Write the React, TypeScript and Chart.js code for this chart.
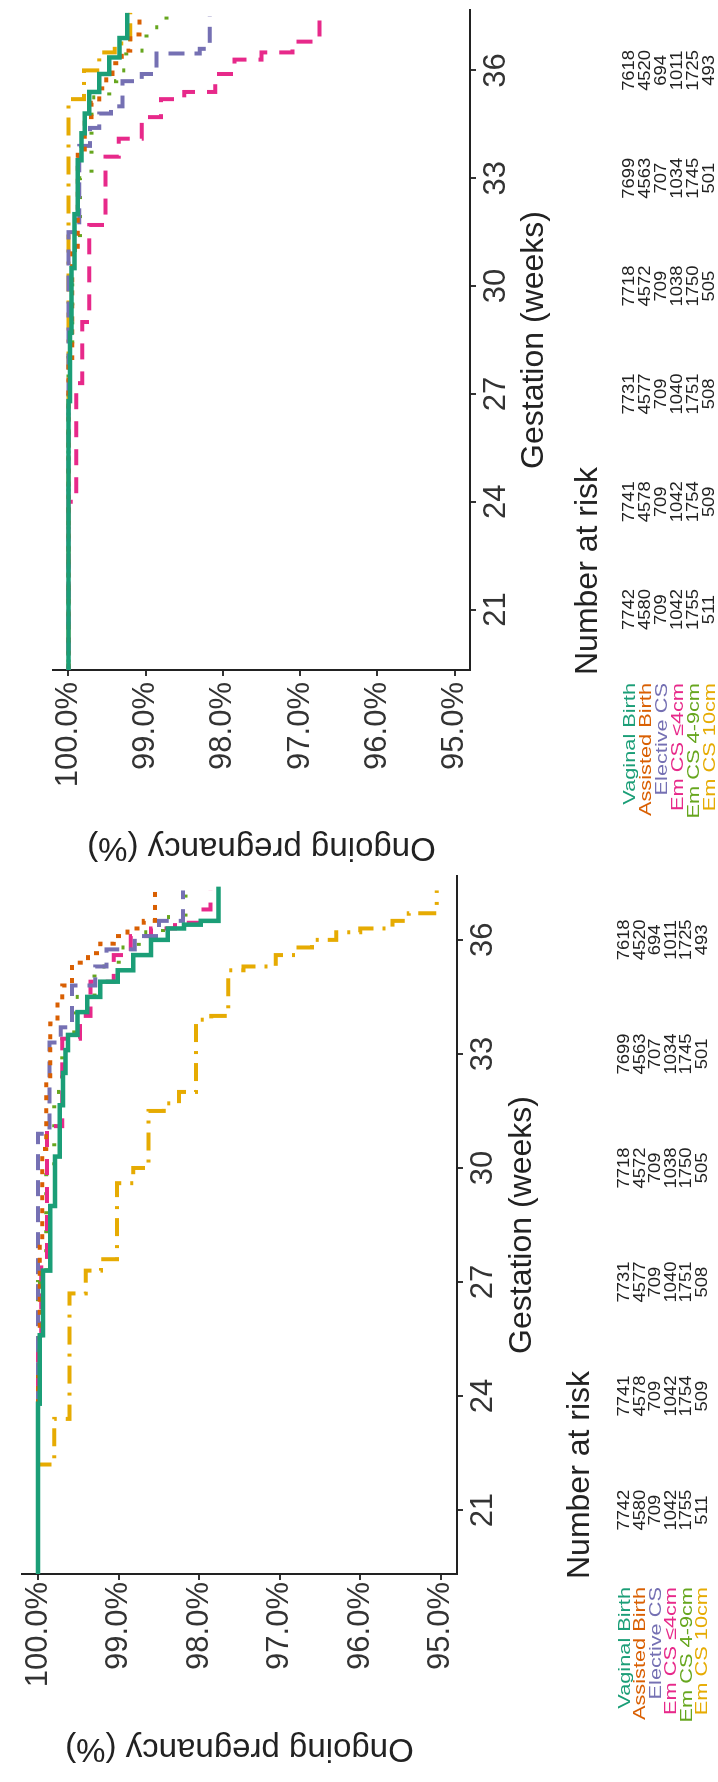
import React, { useEffect, useRef } from 'react';
import { Chart, registerables } from 'chart.js';
Chart.register(...registerables);

const FONT = '"Liberation Sans", Arial, Helvetica, sans-serif';

// ---------- groups ----------
const groupNames = ['Vaginal Birth', 'Assisted Birth', 'Elective CS', 'Em CS \u22644cm', 'Em CS 4-9cm', 'Em CS 10cm'];
const groupColors = ['#1B9E77', '#D95F02', '#7570B3', '#E7298A', '#66A61E', '#E6AB02'];

// ---------- axes ----------
const weekTicks = [21, 24, 27, 30, 33, 36];
const pctTicks = [95, 96, 97, 98, 99, 100];

// ---------- number at risk ----------
const riskWeeks = [21, 24, 27, 30, 33, 36];
const riskVaginal = [7742, 7741, 7731, 7718, 7699, 7618];
const riskAssisted = [4580, 4578, 4577, 4572, 4563, 4520];
const riskElective = [709, 709, 709, 709, 707, 694];
const riskEmLe4 = [1042, 1042, 1040, 1038, 1034, 1011];
const riskEm49 = [1755, 1754, 1751, 1750, 1745, 1725];
const riskEm10 = [511, 509, 508, 505, 501, 493];

// ---------- left panel (survival steps: week, % ongoing) ----------
const aVaginalWeeks = [19, 23.8, 25.6, 27.3, 29.0, 30.3, 31.65, 32.5, 33.1, 33.5, 34.1, 34.5, 34.9, 35.2, 35.6, 36.0, 36.3, 36.4, 36.5, 37.4];
const aVaginalSurv = [100, 99.98, 99.94, 99.85, 99.79, 99.73, 99.69, 99.66, 99.63, 99.51, 99.39, 99.23, 99.01, 98.82, 98.60, 98.39, 98.19, 97.98, 97.76, 97.76];
const aAssistedWeeks = [19, 24.5, 28.0, 30.5, 32.2, 33.8, 34.3, 34.8, 35.4, 35.65, 35.9, 36.1, 36.3, 36.5, 37.4];
const aAssistedSurv = [100, 99.98, 99.95, 99.9, 99.85, 99.76, 99.70, 99.58, 99.38, 99.23, 99.06, 98.89, 98.69, 98.55, 98.55];
const aElectiveWeeks = [19, 30.9, 33.3, 33.7, 34.8, 35.3, 35.75, 36.1, 36.5, 37.3];
const aElectiveSurv = [100, 99.86, 99.72, 99.58, 99.29, 99.15, 98.8, 98.5, 98.2, 98.2];
const aEmLe4Weeks = [19, 25.6, 27.66, 31.1, 33.4, 34.0, 34.9, 35.6, 36.1, 36.3, 36.45, 36.8, 37.3];
const aEmLe4Surv = [100, 99.96, 99.89, 99.70, 99.48, 99.35, 99.06, 98.85, 98.60, 98.3, 97.98, 97.86, 97.86];
const aEm49Weeks = [19, 27, 30, 32, 33.5, 34.5, 35.3, 35.8, 36.2, 36.6, 37.3];
const aEm49Surv = [100, 99.9, 99.8, 99.7, 99.55, 99.3, 99.0, 98.75, 98.45, 98.17, 98.17];
const aEm10Weeks = [19, 22.2, 23.4, 26.7, 27.3, 27.6, 29.6, 30.0, 31.5, 31.7, 32.0, 33.9, 34.0, 35.2, 35.3, 35.6, 35.8, 36.0, 36.2, 36.3, 36.5, 36.7, 37.3];
const aEm10Surv = [100, 99.80, 99.61, 99.41, 99.22, 99.02, 98.82, 98.63, 98.44, 98.25, 98.04, 97.85, 97.64, 97.45, 97.05, 96.8, 96.6, 96.3, 96.0, 95.6, 95.4, 95.05, 95.05];

// ---------- right panel ----------
const bVaginalWeeks = [19, 26.8, 28.7, 30.5, 32.0, 33.5, 34.25, 34.8, 35.4, 35.9, 36.36, 36.9, 37.6];
const bVaginalSurv = [100, 99.98, 99.96, 99.92, 99.88, 99.83, 99.79, 99.73, 99.6, 99.47, 99.34, 99.24, 99.24];
const bAssistedWeeks = [19, 28, 31, 33.8, 34.7, 35.1, 35.5, 35.9, 36.2, 36.55, 37.0, 37.6];
const bAssistedSurv = [100, 99.95, 99.88, 99.79, 99.70, 99.60, 99.51, 99.43, 99.31, 99.2, 99.08, 99.08];
const bElectiveWeeks = [19, 31.5, 33.9, 34.4, 34.8, 35.0, 35.7, 35.9, 36.47, 36.6, 37.5];
const bElectiveSurv = [100, 99.86, 99.72, 99.6, 99.45, 99.3, 99.05, 98.86, 98.3, 98.17, 98.17];
const bEmLe4Weeks = [19, 24.0, 27.3, 29.0, 31.7, 33.6, 34.1, 34.7, 35.2, 35.4, 35.9, 36.3, 36.5, 36.8, 37.4];
const bEmLe4Surv = [100, 99.9, 99.82, 99.73, 99.52, 99.35, 99.05, 98.8, 98.5, 98.1, 97.85, 97.5, 97.1, 96.75, 96.75];
const bEm49Weeks = [19, 28, 31, 33, 35.25, 35.7, 36.0, 36.55, 37.2, 37.6];
const bEm49Surv = [100, 99.95, 99.85, 99.7, 99.47, 99.38, 99.25, 98.99, 98.73, 98.73];
const bEm10Weeks = [19, 35.2, 36.0, 36.5, 36.75, 37.6];
const bEm10Surv = [100, 99.8, 99.6, 99.4, 99.2, 99.2];

// ---------- styles ----------
const groupDashes = [[], [5, 8], [16, 10], [16, 12], [3, 16], [18, 9, 3, 9]];
const groupWidths = [4.5, 4, 4, 4, 4, 4];

const riskRows = [riskVaginal, riskAssisted, riskElective, riskEmLe4, riskEm49, riskEm10];

type Layout = {
  canvasLeft: number; canvasWidth: number;
  left: number; right: number; top: number; bottom: number;
  yTitleX: number; xTitleY: number; nrTitleY: number; rowY0: number; rowPitch: number; yTickPad: number; xTickPad: number;
};

const layoutA: Layout = { canvasLeft: 0, canvasWidth: 918, left: 208, right: 906, top: 22, bottom: 457, yTitleX: 34, xTitleY: 522, nrTitleY: 580, rowY0: 625, rowPitch: 15.5, yTickPad: 2, xTickPad: 2 };
const layoutB: Layout = { canvasLeft: 880, canvasWidth: 902, left: 1112, right: 1772, top: 53, bottom: 470, yTitleX: 935, xTitleY: 534, nrTitleY: 588, rowY0: 630, rowPitch: 16, yTickPad: 6, xTickPad: 2 };

const seriesA = [[aVaginalWeeks, aVaginalSurv], [aAssistedWeeks, aAssistedSurv], [aElectiveWeeks, aElectiveSurv], [aEmLe4Weeks, aEmLe4Surv], [aEm49Weeks, aEm49Surv], [aEm10Weeks, aEm10Surv]];
const seriesB = [[bVaginalWeeks, bVaginalSurv], [bAssistedWeeks, bAssistedSurv], [bElectiveWeeks, bElectiveSurv], [bEmLe4Weeks, bEmLe4Surv], [bEm49Weeks, bEm49Surv], [bEm10Weeks, bEm10Surv]];

function drawText(ctx: CanvasRenderingContext2D, text: string, x: number, y: number, size: number, color: string, align: CanvasTextAlign, sx = 1, rot = 0) {
  ctx.save();
  ctx.font = `${size}px ${FONT}`;
  ctx.fillStyle = color;
  ctx.textAlign = align;
  ctx.textBaseline = 'middle';
  ctx.translate(x, y);
  if (rot) ctx.rotate(rot);
  ctx.scale(sx, 1);
  ctx.fillText(text, 0, 0);
  ctx.restore();
}

function overlay(L: Layout) {
  return {
    id: 'overlay',
    afterDraw(chart: any) {
      const ctx = chart.ctx as CanvasRenderingContext2D;
      const xs = chart.scales.x;
      const off = L.canvasLeft;
      const left = L.left - off;
      const right = L.right - off;
      drawText(ctx, 'Ongoing pregnancy (%)', L.yTitleX - off, (L.top + L.bottom) / 2, 33, '#222', 'center', 1, -Math.PI / 2);
      drawText(ctx, 'Gestation (weeks)', (left + right) / 2, L.xTitleY, 32, '#222', 'center');
      drawText(ctx, 'Number at risk', left - 5, L.nrTitleY, 32, '#222', 'left');
      riskRows.forEach((row, i) => {
        const y = L.rowY0 + i * L.rowPitch;
        drawText(ctx, groupNames[i], left - 13, y, 17, groupColors[i], 'right', 1.28);
        row.forEach((n, j) => {
          drawText(ctx, String(n), xs.getPixelForValue(riskWeeks[j]), y, 16, '#222', 'center', 1.15);
        });
      });
    },
  };
}

function buildChart(canvas: HTMLCanvasElement, L: Layout, series: number[][][]) {
  const right = L.right - L.canvasLeft;
  const left = L.left - L.canvasLeft;
  return new Chart(canvas, {
    type: 'line',
    data: {
      datasets: series.map(([w, s], i) => ({
        label: groupNames[i],
        data: w.map((x, j) => ({ x, y: s[j] })),
        borderColor: groupColors[i],
        borderWidth: groupWidths[i],
        borderDash: groupDashes[i],
        stepped: true,
        pointRadius: 0,
        fill: false,
      })),
    },
    options: {
      responsive: false,
      animation: false,
      devicePixelRatio: 1,
      layout: { padding: { left: 0, top: L.top, right: L.canvasWidth - right, bottom: 0 } },
      plugins: { legend: { display: false }, tooltip: { enabled: false }, title: { display: false } },
      scales: {
        x: {
          type: 'linear', min: 19.32, max: 37.68,
          afterBuildTicks: (s: any) => { s.ticks = weekTicks.map((v) => ({ value: v })); },
          afterFit: (s: any) => { s.height = 718 - L.bottom; },
          grid: { drawOnChartArea: false, drawTicks: true, tickLength: 6, color: '#333', lineWidth: 2 },
          border: { display: true, color: '#222', width: 2 },
          ticks: { font: { family: FONT, size: 31 }, color: '#333', padding: L.xTickPad, maxRotation: 0, autoSkip: false, callback: (v: any) => String(v) },
        },
        y: {
          type: 'linear', min: 94.8, max: 100.2,
          afterBuildTicks: (s: any) => { s.ticks = pctTicks.map((v) => ({ value: v })); },
          afterFit: (s: any) => { s.width = left; },
          grid: { drawOnChartArea: false, drawTicks: true, tickLength: 6, color: '#333', lineWidth: 2 },
          border: { display: true, color: '#222', width: 2 },
          ticks: { font: { family: FONT, size: 31 }, color: '#333', padding: L.yTickPad, autoSkip: false, callback: (v: any) => Number(v).toFixed(1) + '%' },
        },
      },
    } as any,
    plugins: [overlay(L)],
  });
}

export default function App() {
  const refA = useRef<HTMLCanvasElement>(null);
  const refB = useRef<HTMLCanvasElement>(null);
  useEffect(() => {
    document.body.style.margin = '0';
    document.body.style.overflow = 'hidden';
    const a = buildChart(refA.current!, layoutA, seriesA);
    const b = buildChart(refB.current!, layoutB, seriesB);
    return () => { a.destroy(); b.destroy(); };
  }, []);
  return (
    <div style={{ position: 'absolute', left: 0, top: 0, width: 1782, height: 718, background: '#fff', transformOrigin: '0 0', transform: 'translate(0px, 1782px) rotate(-90deg)' }}>
      <canvas ref={refA} width={918} height={718} style={{ position: 'absolute', left: 0, top: 0, width: 918, height: 718 }} />
      <canvas ref={refB} width={902} height={718} style={{ position: 'absolute', left: 880, top: 0, width: 902, height: 718 }} />
    </div>
  );
}
